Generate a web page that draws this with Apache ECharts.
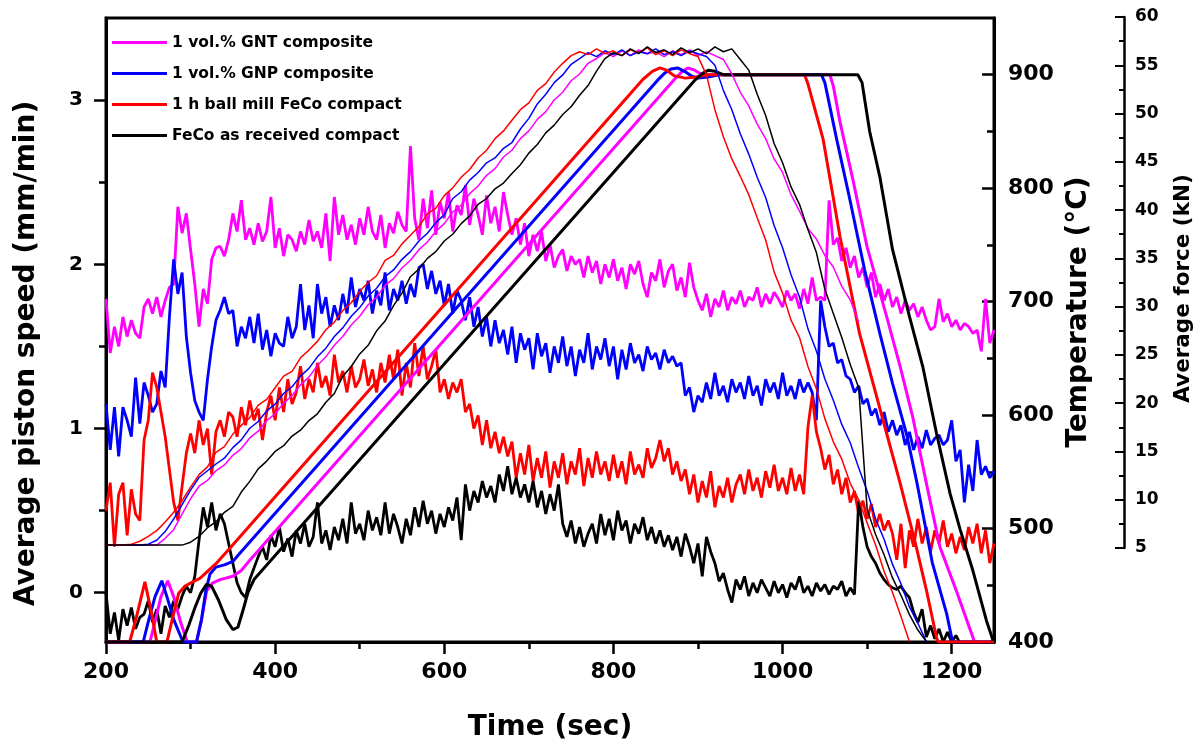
<!DOCTYPE html>
<html>
<head>
<meta charset="utf-8">
<script src="https://cdn.jsdelivr.net/npm/echarts/dist/echarts.min.js"></script>
<style>
html, body { margin: 0; padding: 0; background: #fff; }
#chart { width: 1203px; height: 747px; }
</style>
</head>
<body>
<div id="chart"></div>
<script>
var names = ['1 vol.% GNT composite', '1 vol.% GNP composite', '1 h ball mill FeCo compact', 'FeCo as received compact'];
var colors = ['#ff00ff', '#0000ff', '#ff0000', '#000000'];

// piston speed (mm/min), one reading every 5 s from 200 s
var speedStart = 200, speedStep = 5;
var speedGNT = [
  1.79,1.46,1.62,1.50,1.68,1.56,1.66,1.58,1.55,1.74,
  1.79,1.70,1.80,1.68,1.78,1.86,1.88,2.35,2.19,2.31,
  2.09,1.88,1.62,1.85,1.76,2.03,2.10,2.11,2.05,2.15,
  2.31,2.20,2.39,2.15,2.22,2.12,2.25,2.14,2.20,2.41,
  2.10,2.22,2.05,2.18,2.15,2.08,2.20,2.12,2.27,2.14,
  2.20,2.10,2.31,2.02,2.41,2.18,2.30,2.15,2.24,2.12,
  2.28,2.18,2.35,2.20,2.15,2.30,2.10,2.25,2.19,2.32,
  2.24,2.20,2.72,2.28,2.15,2.40,2.22,2.45,2.18,2.38,
  2.28,2.44,2.20,2.36,2.30,2.48,2.24,2.40,2.30,2.18,
  2.42,2.25,2.35,2.20,2.44,2.30,2.18,2.28,2.12,2.25,
  2.05,2.18,2.08,2.20,2.02,2.12,1.98,2.05,2.09,1.96,
  2.05,2.00,2.03,1.92,2.05,1.95,2.02,1.88,2.00,1.92,
  2.03,1.90,1.98,1.85,2.00,1.94,2.02,1.88,1.80,1.95,
  1.90,2.03,1.86,1.96,2.00,1.84,1.92,1.80,2.01,1.86,
  1.78,1.72,1.82,1.68,1.79,1.74,1.84,1.72,1.80,1.76,
  1.84,1.74,1.80,1.78,1.86,1.74,1.82,1.76,1.83,1.79,
  1.74,1.84,1.78,1.82,1.73,1.85,1.76,1.92,1.78,1.80,
  1.78,2.39,2.12,2.16,2.02,2.10,1.98,2.05,1.92,1.98,
  1.86,1.95,1.80,1.88,1.78,1.85,1.74,1.80,1.70,1.78,
  1.72,1.76,1.68,1.74,1.66,1.60,1.62,1.79,1.65,1.70,
  1.62,1.66,1.60,1.64,1.62,1.58,1.60,1.47,1.79,1.52,
  1.60
];
var speedGNP = [
  1.15,0.87,1.13,0.83,1.13,1.05,0.95,1.31,1.03,1.28,
  1.20,1.10,1.15,1.35,1.25,1.68,2.03,1.82,1.95,1.56,
  1.34,1.17,1.10,1.05,1.30,1.50,1.66,1.72,1.80,1.70,
  1.72,1.50,1.62,1.55,1.68,1.52,1.70,1.48,1.60,1.44,
  1.58,1.52,1.50,1.68,1.55,1.62,1.88,1.60,1.75,1.55,
  1.88,1.70,1.80,1.62,1.75,1.66,1.82,1.70,1.92,1.74,
  1.85,1.78,1.90,1.70,1.84,1.75,1.95,1.72,1.85,1.78,
  1.90,1.76,1.88,1.80,1.98,2.00,1.85,1.96,1.82,1.90,
  1.75,1.88,1.70,1.84,1.78,1.66,1.80,1.62,1.74,1.56,
  1.68,1.50,1.66,1.52,1.60,1.45,1.62,1.40,1.58,1.48,
  1.55,1.36,1.58,1.44,1.52,1.34,1.50,1.40,1.56,1.38,
  1.50,1.32,1.48,1.40,1.58,1.36,1.50,1.42,1.55,1.38,
  1.50,1.30,1.48,1.36,1.52,1.40,1.45,1.35,1.50,1.42,
  1.46,1.36,1.48,1.40,1.44,1.38,1.40,1.20,1.25,1.10,
  1.20,1.16,1.28,1.18,1.34,1.20,1.26,1.16,1.30,1.22,
  1.28,1.18,1.32,1.20,1.26,1.14,1.30,1.22,1.28,1.18,
  1.34,1.20,1.26,1.18,1.30,1.22,1.28,1.22,1.05,1.78,
  1.62,1.50,1.52,1.40,1.42,1.32,1.30,1.22,1.26,1.15,
  1.18,1.08,1.12,1.02,1.10,0.98,1.05,0.96,1.02,0.90,
  0.98,0.87,0.95,0.88,0.99,0.90,0.94,0.96,0.90,0.93,
  1.05,0.80,0.87,0.55,0.78,0.62,0.93,0.72,0.77,0.70,
  0.74
];
var speedMill = [
  0.50,0.67,0.28,0.60,0.67,0.35,0.63,0.48,0.44,0.93,
  1.05,1.34,1.25,1.10,0.95,0.75,0.55,0.44,0.65,0.85,
  0.97,0.85,1.05,0.90,1.00,0.72,0.98,1.05,0.95,1.10,
  1.07,0.95,1.13,1.02,1.17,1.05,1.12,0.93,1.10,1.20,
  1.05,1.25,1.10,1.30,1.15,1.22,1.38,1.18,1.30,1.22,
  1.40,1.25,1.32,1.20,1.45,1.28,1.35,1.22,1.38,1.25,
  1.30,1.42,1.26,1.36,1.22,1.40,1.28,1.45,1.30,1.48,
  1.20,1.40,1.25,1.52,1.32,1.50,1.30,1.38,1.48,1.22,
  1.30,1.18,1.28,1.22,1.30,1.10,1.15,1.00,1.08,0.90,
  1.05,0.88,0.98,0.85,0.95,0.83,0.92,0.70,0.85,0.72,
  0.90,0.68,0.82,0.70,0.86,0.64,0.80,0.70,0.85,0.66,
  0.80,0.72,0.88,0.65,0.82,0.70,0.86,0.72,0.80,0.68,
  0.84,0.70,0.80,0.66,0.86,0.72,0.78,0.70,0.88,0.76,
  0.82,0.93,0.80,0.88,0.72,0.80,0.68,0.75,0.60,0.72,
  0.55,0.68,0.58,0.74,0.52,0.65,0.58,0.70,0.55,0.66,
  0.72,0.60,0.75,0.62,0.70,0.58,0.74,0.64,0.78,0.62,
  0.70,0.60,0.76,0.62,0.72,0.60,1.01,1.20,0.98,0.88,
  0.75,0.84,0.66,0.75,0.60,0.70,0.55,0.62,0.48,0.56,
  0.45,0.54,0.40,0.48,0.38,0.44,0.36,0.20,0.42,0.15,
  0.38,0.28,0.45,0.30,0.40,0.25,0.38,0.30,0.44,0.28,
  0.36,0.24,0.34,0.26,0.40,0.30,0.42,0.24,0.38,0.18,
  0.30
];
var speedRaw = [
  0.00,-0.25,-0.12,-0.29,-0.10,-0.20,-0.09,-0.22,-0.15,-0.13,
  -0.05,-0.18,-0.10,-0.25,-0.08,-0.15,-0.05,-0.10,-0.02,0.04,
  0.00,0.10,0.32,0.52,0.40,0.55,0.38,0.48,0.42,0.30,
  0.18,0.06,0.00,-0.03,0.08,0.15,0.22,0.28,0.20,0.35,
  0.28,0.40,0.25,0.33,0.22,0.38,0.30,0.42,0.28,0.34,
  0.55,0.30,0.38,0.26,0.40,0.32,0.45,0.30,0.55,0.36,
  0.42,0.32,0.50,0.38,0.46,0.35,0.55,0.36,0.48,0.40,
  0.30,0.45,0.35,0.52,0.40,0.56,0.42,0.50,0.36,0.48,
  0.40,0.52,0.44,0.58,0.32,0.66,0.50,0.62,0.55,0.68,
  0.58,0.65,0.55,0.72,0.62,0.77,0.60,0.70,0.58,0.66,
  0.55,0.68,0.52,0.62,0.48,0.60,0.50,0.66,0.42,0.34,
  0.44,0.30,0.40,0.28,0.36,0.42,0.30,0.48,0.35,0.45,
  0.32,0.50,0.38,0.44,0.30,0.42,0.36,0.46,0.32,0.40,
  0.30,0.38,0.28,0.35,0.26,0.34,0.22,0.36,0.28,0.18,
  0.30,0.10,0.34,0.25,0.18,0.07,0.12,0.02,-0.06,0.08,
  0.02,0.10,-0.02,0.06,0.00,0.08,0.03,-0.02,0.07,0.00,
  0.05,-0.03,0.06,0.02,0.10,0.00,0.04,-0.02,0.06,0.01,
  0.05,-0.01,0.04,0.02,0.07,-0.02,0.03,-0.01,0.56,0.40,
  0.28,0.22,0.18,0.12,0.08,0.05,0.03,0.02,0.04,0.00,
  -0.03,-0.12,-0.18,-0.10,-0.27,-0.20,-0.28,-0.22,-0.30,-0.24,
  -0.30,-0.26,-0.31,-0.32,-0.35,-0.35,-0.35,-0.35,-0.35,-0.35,
  -0.35
];

// temperature (°C) as [time, value]
var tempGNT = [[200,400],[252,400],[258,418],[265,440],[273,454],[280,440],[288,418],[296,400],[307,400],[313,420],[319,445],[326,452],[335,455],[350,458],[360,463],[370,472],[871,895],[880,902],[888,906],[896,904],[905,900],[1056,900],[1060,890],[1068,858],[1083,808],[1100,748],[1123,687],[1139,643],[1154,598],[1170,540],[1186,484],[1206,444],[1227,400],[1232,400]];
var tempGNP = [[200,400],[244,400],[250,418],[258,440],[266,454],[272,440],[280,420],[291,400],[307,400],[313,420],[318,445],[323,460],[330,466],[340,468],[350,471],[358,478],[852,895],[860,901],[868,905],[876,906],[884,903],[892,899],[900,897],[912,898],[925,900],[1046,900],[1050,893],[1064,843],[1079,792],[1097,728],[1115,672],[1130,628],[1147,582],[1159,540],[1177,470],[1194,425],[1201,400],[1250,400]];
var tempMill = [[200,400],[228,400],[236,422],[246,453],[254,425],[260,400],[272,400],[280,425],[286,443],[293,449],[300,452],[311,456],[330,469],[348,484],[835,896],[846,903],[855,906],[863,904],[872,899],[885,897],[898,898],[910,900],[1026,900],[1030,892],[1048,843],[1068,757],[1091,672],[1107,628],[1123,584],[1139,540],[1158,484],[1170,446],[1182,404],[1184,400],[1250,400]];
var tempRaw = [[200,400],[290,400],[298,415],[305,430],[312,443],[319,451],[325,449],[333,437],[342,420],[350,411],[356,413],[362,428],[368,444],[375,455],[382,461],[896,895],[905,901],[912,904],[920,903],[930,900],[1089,900],[1094,893],[1103,850],[1115,810],[1130,746],[1150,687],[1166,642],[1182,584],[1198,531],[1210,499],[1225,463],[1241,419],[1249,401]];

// average force (kN), one reading every 10 s from 200 s
var forceStart = 200, forceStep = 10;
var forceGNT = [
  5.3,5.3,5.3,5.3,5.3,5.3,5.3,6.0,6.9,8.5,
  10.1,11.4,12.0,13.0,13.6,14.6,15.3,16.4,17.1,18.2,
  18.9,20.0,20.8,21.9,22.7,23.9,24.8,26.0,26.9,28.1,
  29.0,30.2,31.0,32.2,32.9,34.0,34.8,35.9,36.7,37.8,
  38.6,39.8,40.5,41.7,42.5,43.6,44.3,45.5,46.2,47.4,
  48.2,49.4,50.2,51.4,52.2,53.4,54.1,55.2,55.7,56.3,
  55.9,56.5,56.0,56.6,56.2,56.4,55.9,56.5,56.1,56.6,
  56.0,56.4,56.0,55.6,54.1,52.2,50.8,48.9,47.4,45.3,
  43.9,41.6,39.9,38.1,37.0,35.3,34.1,32.1,30.7,28.4
];
var forceGNP = [
  5.3,5.3,5.3,5.3,5.3,5.4,5.8,6.7,8.0,9.5,
  11.0,12.3,13.0,13.7,14.3,15.4,16.2,17.4,18.1,19.2,
  19.9,21.0,21.7,22.8,23.6,24.8,25.7,26.9,27.8,29.0,
  29.9,31.1,31.9,33.1,33.8,34.9,35.7,36.8,37.6,38.7,
  39.5,41.2,41.9,43.1,43.9,44.9,45.4,46.4,47.0,48.4,
  49.5,51.0,52.0,53.2,54.0,55.1,55.7,56.3,55.9,56.5,
  56.1,56.6,56.0,56.4,56.2,56.7,56.1,56.4,56.0,56.5,
  56.2,55.9,55.0,52.4,50.4,47.9,45.8,43.4,41.3,38.4,
  36.1,33.3,31.0,27.7,25.4,22.5,20.3,17.8,15.9,13.3,
  10.9,8.0,5.9,3.3,1.3,-1.1,-2.8,-4.7
];
var forceMill = [
  5.3,5.3,5.3,5.4,5.7,6.2,6.8,7.7,8.7,9.9,
  11.3,12.6,13.4,14.9,15.5,16.8,17.7,18.5,19.8,20.4,
  21.6,22.8,23.3,24.7,25.5,26.4,27.6,28.4,29.6,30.4,
  31.6,32.5,33.2,34.8,35.3,36.5,37.4,38.3,39.6,40.2,
  41.5,42.3,43.4,44.2,45.4,46.2,47.4,48.2,49.3,50.4,
  51.1,52.4,53.1,54.3,55.2,56.0,56.4,56.1,56.7,56.2,
  56.5,56.0,56.6,56.3,56.8,56.1,56.5,56.0,56.6,56.2,
  55.9,54.0,50.4,47.6,45.3,43.5,41.6,39.2,36.9,33.6,
  31.4,28.6,26.8,23.8,21.5,18.4,16.0,14.2,11.7,10.0,
  7.6,5.3,2.6,0.4,-2.1,-4.7
];
var forceRaw = [
  5.3,5.3,5.3,5.3,5.3,5.3,5.3,5.3,5.3,5.3,
  5.6,6.2,7.1,7.7,8.7,9.3,10.8,11.9,13.2,14.0,
  15.0,15.6,16.6,17.2,18.2,18.9,20.1,21.0,22.8,23.8,
  25.1,26.0,27.5,28.5,30.1,31.4,33.1,33.9,35.0,35.7,
  36.8,37.5,38.6,39.4,40.6,41.2,42.2,42.8,43.8,44.7,
  45.9,46.8,48.0,48.8,49.9,50.7,51.9,52.9,54.4,55.7,
  56.3,56.0,56.7,56.2,56.9,56.3,56.6,56.1,56.8,56.3,
  56.7,56.2,56.9,56.4,56.7,55.6,54.5,52.0,49.8,46.9,
  44.9,42.4,40.6,38.0,35.6,31.8,29.3,26.8,24.0,21.6,
  9.0,6.4,4.3,1.9,0.1,-1.9,-3.5,-4.7
];

// tick positions
var xMajor = [200, 400, 600, 800, 1000, 1200];
var xMinor = [300, 500, 700, 900, 1100];
var speedMajor = [0, 1, 2, 3];
var speedMinor = [0.5, 1.5, 2.5];
var tempMajor = [400, 500, 600, 700, 800, 900];
var tempMinor = [450, 550, 650, 750, 850];

var font = 'DejaVu Sans';

function steps(start, step, vals) {
    var out = [];
    for (var i = 0; i < vals.length; i++) {
        out.push([start + i * step, vals[i]]);
    }
    return out;
}
function plain(v) { return String(v); }

var speedSets = [speedGNT, speedGNP, speedMill, speedRaw];
var tempSets = [tempGNT, tempGNP, tempMill, tempRaw];
var forceSets = [forceGNT, forceGNP, forceMill, forceRaw];

var series = [];
for (var i = 0; i < 4; i++) {
    series.push({
        type: 'line', name: names[i], xAxisIndex: 0, yAxisIndex: 0,
        data: steps(speedStart, speedStep, speedSets[i]),
        symbol: 'none', color: colors[i],
        lineStyle: { color: colors[i], width: 2.8 },
        itemStyle: { color: colors[i] }
    });
}
for (var i = 0; i < 4; i++) {
    series.push({
        type: 'line', name: 'temperature ' + i, xAxisIndex: 0, yAxisIndex: 2,
        data: tempSets[i], symbol: 'none', color: colors[i],
        lineStyle: { color: colors[i], width: 3 }
    });
}
// force lines live in the short grid of the force axis and may run below it
for (var i = 0; i < 4; i++) {
    series.push({
        type: 'line', name: 'force ' + i, xAxisIndex: 1, yAxisIndex: 4,
        data: steps(forceStart, forceStep, forceSets[i]), clip: false,
        symbol: 'none', color: colors[i],
        lineStyle: { color: colors[i], width: 1.5 }
    });
}

var axisLine = { show: true, onZero: false, lineStyle: { color: '#000', width: 3 } };
var tickStyle = { color: '#000', width: 2.5 };
var labelStyle = { color: '#000', fontWeight: 'bold', fontFamily: font, formatter: plain };
var titleStyle = { color: '#000', fontWeight: 'bold', fontFamily: font, fontSize: 28 };

var chart = echarts.init(document.getElementById('chart'));
var option = {
    animation: false,
    backgroundColor: '#fff',
    grid: [
        { left: 106, right: 209, top: 18, bottom: 105, show: true, borderColor: '#000', borderWidth: 3, outerBoundsMode: 'none' },
        { left: 106, right: 209, top: 17, bottom: 199, outerBoundsMode: 'none' },
        // same box as the main grid, only carries the minor time ticks
        { left: 106, right: 209, top: 18, bottom: 105, outerBoundsMode: 'none' }
    ],
    legend: {
        data: names, orient: 'vertical', left: 112, top: 33,
        icon: 'rect', itemWidth: 55, itemHeight: 3, itemGap: 12,
        selectedMode: false, padding: 0,
        textStyle: { color: '#000', fontWeight: 'bold', fontFamily: font, fontSize: 15.5, lineHeight: 19 }
    },
    xAxis: [
        {
            gridIndex: 0, type: 'value', position: 'bottom', min: 200, max: 1250,
            name: 'Time (sec)', nameLocation: 'middle', nameGap: 72,
            nameTextStyle: titleStyle,
            axisLine: axisLine,
            axisTick: { show: true, customValues: xMajor, length: 12, lineStyle: tickStyle },
            axisLabel: Object.assign({ customValues: xMajor, fontSize: 22, margin: 19 }, labelStyle),
            splitLine: { show: false }
        },
        { gridIndex: 1, type: 'value', min: 200, max: 1250, show: false, axisLine: { onZero: false } },
        {
            gridIndex: 2, type: 'value', position: 'bottom', min: 200, max: 1250,
            axisLine: { show: false, onZero: false },
            axisTick: { show: true, customValues: xMinor, length: 7, lineStyle: tickStyle },
            axisLabel: { show: false }, splitLine: { show: false }
        }
    ],
    yAxis: [
        {
            gridIndex: 0, type: 'value', position: 'left', min: -0.3, max: 3.5,
            name: 'Average piston speed (mm/min)', nameLocation: 'middle', nameRotate: 90, nameGap: 65,
            nameTextStyle: Object.assign({ padding: [0, 47, 0, 0] }, titleStyle),
            axisLine: axisLine,
            axisTick: { show: true, customValues: speedMajor, length: 12, lineStyle: tickStyle },
            axisLabel: Object.assign({ customValues: speedMajor, fontSize: 20, margin: 23 }, labelStyle),
            splitLine: { show: false }
        },
        {
            gridIndex: 0, type: 'value', position: 'left', min: -0.3, max: 3.5,
            axisLine: { show: false, onZero: false },
            axisTick: { show: true, customValues: speedMinor, length: 7, lineStyle: tickStyle },
            axisLabel: { show: false }, splitLine: { show: false }
        },
        {
            gridIndex: 0, type: 'value', position: 'right', min: 400, max: 950,
            name: 'Temperature (°C)', nameLocation: 'middle', nameRotate: 90, nameGap: 64,
            nameTextStyle: Object.assign({ padding: [0, 0, 0, 36] }, titleStyle),
            axisLine: axisLine,
            axisTick: { show: true, inside: true, customValues: tempMajor, length: 12, lineStyle: tickStyle },
            axisLabel: Object.assign({ customValues: tempMajor, fontSize: 22, margin: 14 }, labelStyle),
            splitLine: { show: false }
        },
        {
            gridIndex: 0, type: 'value', position: 'right', min: 400, max: 950,
            axisLine: { show: false, onZero: false },
            axisTick: { show: true, inside: true, customValues: tempMinor, length: 7, lineStyle: tickStyle },
            axisLabel: { show: false }, splitLine: { show: false }
        },
        {
            gridIndex: 1, type: 'value', position: 'right', offset: 130, min: 5, max: 60, interval: 5,
            name: 'Average force (kN)', nameLocation: 'middle', nameRotate: 90, nameGap: 48,
            nameTextStyle: Object.assign({}, titleStyle, { fontSize: 21.5, padding: [0, 12, 0, 0] }),
            axisLine: { show: true, onZero: false, lineStyle: { color: '#000', width: 2.5 } },
            axisTick: { show: true, inside: true, length: 9, lineStyle: { color: '#000', width: 2 } },
            minorTick: { show: true, splitNumber: 2, length: 5, lineStyle: { color: '#000', width: 2 } },
            axisLabel: Object.assign({ fontSize: 17, margin: 11 }, labelStyle),
            splitLine: { show: false }, minorSplitLine: { show: false }
        },
        { gridIndex: 2, type: 'value', min: 0, max: 1, show: false }
    ],
    series: series
};
chart.setOption(option);
</script>
</body>
</html>
